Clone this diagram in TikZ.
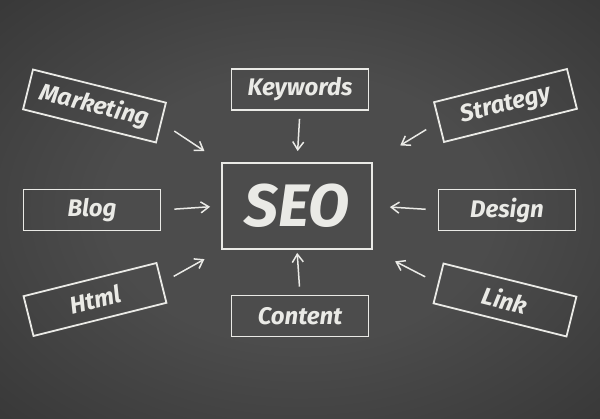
\documentclass[tikz,border=0pt]{standalone}
\usepackage{fontspec}
\setmainfont{Fira Sans}
\usetikzlibrary{arrows.meta}

\definecolor{chalk}{RGB}{234,234,230}
\definecolor{boardmid}{RGB}{76,76,76}
\definecolor{boardring}{RGB}{52,52,52}
\definecolor{boardedge}{RGB}{14,14,14}
\pgfdeclareradialshading{board}{\pgfpoint{0bp}{0bp}}{color(0bp)=(boardmid); color(16bp)=(boardmid); color(40bp)=(boardring); color(71bp)=(boardedge)}

\begin{document}
\begin{tikzpicture}[x=1pt, y=-1pt, >={Straight Barb[length=8pt,width=11pt]},
	box/.style={draw=chalk, line width=1.8pt, minimum width=137pt, minimum height=41pt,
		inner sep=0pt, text=chalk, font=\fontsize{24}{24}\selectfont\bfseries\itshape},
	arrowline/.style={->, draw=chalk, line width=1.5pt}]
% Board
\shade[shading=board] (0,0) rectangle (600,419);
\useasboundingbox (0,0) rectangle (600,419);

% Central node
\node[box, minimum width=150pt, minimum height=86pt,
	font=\fontsize{60}{60}\selectfont\bfseries\itshape] (SEO) at (297,206) {SEO};

% Outer nodes
\foreach \name/\px/\py/\ang in {Marketing/94.5/106/-14, Keywords/300/89.5/0,
	Strategy/505.5/105.5/14, Blog/92/210/0, Design/507/210/0,
	Html/95/299.5/14, Content/300/316/0, Link/505/300/-14}
{
	\node[box, rotate=\ang] (\name) at (\px,\py) {\name};
}

% Connect outer nodes to SEO
\foreach \from/\to/\s/\e in {Marketing.east/SEO.north west/15/20,
	Keywords.south/SEO.north/8/11, Strategy.west/SEO.north east/14/32,
	Blog.east/SEO.west/13/11, Design.west/SEO.east/12/17,
	Html.east/SEO.south west/13/19, Link.west/SEO.south east/14/25,
	Content.north/SEO.south/8/3}
{
	\draw[arrowline, shorten <=\s pt, shorten >=\e pt] (\from) -- (\to);
}
\end{tikzpicture}
\end{document}
